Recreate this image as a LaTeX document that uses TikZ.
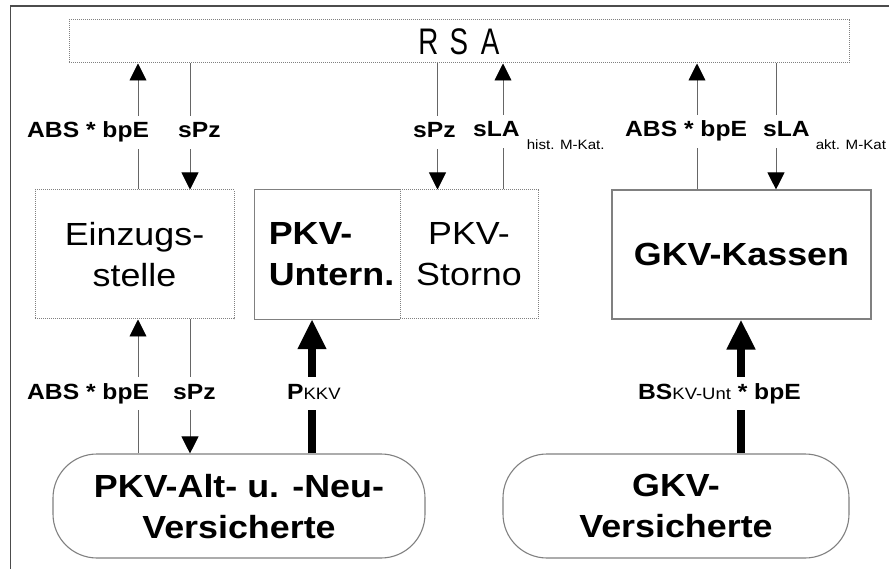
\documentclass[tikz,border=0pt]{standalone}
\usepackage{fontspec}
\setmainfont[FakeStretch=1.12]{Liberation Sans}
\newfontfamily\rsafont[FakeStretch=0.75]{Liberation Sans}
\usetikzlibrary{arrows.meta}
\definecolor{linec}{gray}{0.40}
\definecolor{boxc}{gray}{0.50}
\definecolor{framec}{gray}{0.30}
\newcommand\bigtxt{\fontsize{32}{41}\selectfont}
\newcommand\lbltxt{\fontsize{22}{26}\selectfont\bfseries}
\newcommand\subtxt{\fontsize{16.5}{20}\selectfont\mdseries}
\newcommand\lowtxt{\fontsize{13.5}{16}\selectfont\mdseries}
\tikzset{
  solidbox/.style={draw=boxc, line width=1.1pt, inner sep=0pt, align=center, font=\bigtxt},
  dotbox/.style={draw=boxc, line width=1pt, dash pattern=on 1pt off 1pt, inner sep=0pt, align=center, font=\bigtxt},
  roundbox/.style={draw=boxc, line width=1.1pt, rounded corners=44pt, inner sep=0pt, align=center, font=\bigtxt\bfseries},
  thinarrow/.style={draw=linec, line width=0.9pt, -{Triangle[length=17pt,width=17pt,color=black]}},
  thickarrow/.style={draw=black, line width=8pt, -{Triangle[length=30pt,width=27pt]}},
  lbl/.style={fill=white, inner xsep=0pt, inner ysep=6pt, text height=16pt, text depth=5pt, anchor=base west, font=\lbltxt},
}
\begin{document}
\begin{tikzpicture}[x=1pt, y=-1pt]
\useasboundingbox (0,0) rectangle (889,569);
% outer frame
\draw[framec, line width=1.6pt] (889,6) -- (10.5,6) -- (10.5,569);

% boxes
\node[dotbox, minimum width=780pt, minimum height=43pt] (rsa) at (459,41.5)
  {\rsafont\fontsize{37}{40}\selectfont R\hspace{11pt}S\hspace{13pt}A};
\node[dotbox, minimum width=199pt, minimum height=129pt] (einz) at (134.5,254.5)
  {Einzugs-\\stelle};
\node[inner sep=0pt, align=left, font=\bigtxt\bfseries, minimum width=145pt, minimum height=129pt] (pkvu) at (327.5,254.5)
  {\hspace{8pt}PKV-\\\hspace{8pt}Untern.};
\draw[boxc, line width=1.1pt] (pkvu.north east) -- (pkvu.north west) -- (pkvu.south west) -- (pkvu.south east);
\node[dotbox, minimum width=138pt, minimum height=129pt] (pkvs) at (469,254.5)
  {PKV-\\Storno\hspace{6pt}};
\node[solidbox, font=\bigtxt\bfseries, minimum width=259pt, minimum height=129pt] (gkvk) at (741.5,254.5)
  {GKV-Kassen};
\node[roundbox, minimum width=372pt, minimum height=104pt, text height=65pt] (pkvv) at (239,506)
  {\fontsize{32}{34}\selectfont PKV-Alt- u. -Neu-\\Versicherte};
\node[roundbox, minimum width=346pt, minimum height=104pt] (gkvv) at (676,506)
  {GKV-\\Versicherte};

% column coordinates
\coordinate (c1) at (138,0);
\coordinate (c2) at (190,0);
\coordinate (c3) at (437.5,0);
\coordinate (c4) at (503,0);
\coordinate (c5) at (697,0);
\coordinate (c6) at (776,0);
\coordinate (c7) at (312,0);
\coordinate (c8) at (741,0);

% connectors
\draw[thinarrow] (c1 |- einz.north) -- (c1 |- rsa.south);
\draw[thinarrow] (c2 |- rsa.south) -- (c2 |- einz.north);
\draw[thinarrow] (c3 |- rsa.south) -- (c3 |- pkvs.north);
\draw[thinarrow] (c4 |- pkvs.north) -- (c4 |- rsa.south);
\draw[thinarrow] (c5 |- gkvk.north) -- (c5 |- rsa.south);
\draw[thinarrow] (c6 |- rsa.south) -- (c6 |- gkvk.north);
\draw[thinarrow] (c1 |- pkvv.north) -- (c1 |- einz.south);
\draw[thinarrow] (c2 |- einz.south) -- (c2 |- pkvv.north);
\draw[thickarrow] (c7 |- pkvv.north) -- (c7 |- pkvu.south);
\draw[thickarrow] (c8 |- gkvv.north) -- (c8 |- gkvk.south);

% labels
\node[lbl] (l1) at (27,138) {ABS * bpE};
\node[lbl] (l2) at (178,138) {sPz};
\node[lbl] (l3) at (413,138) {sPz};
\node[lbl] (l4) at (473,137) {sLA\hspace{7pt}\raisebox{-13pt}{\lowtxt hist. M-Kat.}};
\node[lbl] (l5) at (625,137) {ABS * bpE};
\node[lbl] (l6) at (763,137) {sLA\hspace{6pt}\raisebox{-13pt}{\lowtxt akt. M-Kat}};
\node[lbl] (l7) at (27,399) {ABS * bpE};
\node[lbl] (l8) at (173,399) {sPz};
\node[lbl] (l9) at (287,399) {P{\subtxt KKV}};
\node[lbl] (l10) at (638,399) {BS{\subtxt KV-Unt} * bpE};
\end{tikzpicture}
\end{document}
